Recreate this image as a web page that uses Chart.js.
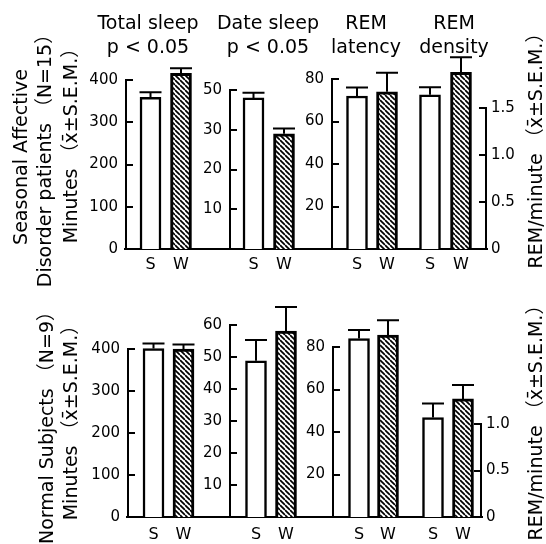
<!DOCTYPE html>
<html><head><meta charset="utf-8">
<script src="https://cdn.jsdelivr.net/npm/chart.js@4.4.1/dist/chart.umd.min.js"></script>
<style>
html,body{margin:0;padding:0;background:#fff;}
#wrap{position:relative;width:546px;height:544px;overflow:hidden;background:#fff;}
canvas{position:absolute;left:0;top:0;}
.t{position:absolute;width:130px;font-family:"DejaVu Sans","Noto Sans CJK JP",sans-serif;color:#000;white-space:nowrap;font-size:19px;line-height:24px;text-align:center;}
.r{position:absolute;font-family:"DejaVu Sans","Noto Sans CJK JP",sans-serif;color:#000;white-space:nowrap;font-size:19px;line-height:22px;transform:translate(-50%,-50%) rotate(-90deg);}
</style></head>
<body><div id="wrap"></div>
<script>
// ---------- data ----------
const categories = ['S', 'W'];
// Seasonal Affective Disorder patients (N=15)
const sadTotalSleep = [359, 416];
const sadTotalSleepErr = [12, 12];
const sadDateSleep = [38, 29];
const sadDateSleepErr = [1.3, 1.3];
const sadRemLatency = [72, 74];
const sadRemLatencyErr = [4, 9];
const sadRemDensity = [1.64, 1.88];
const sadRemDensityErr = [0.08, 0.16];
// Normal Subjects (N=9)
const nsTotalSleep = [401, 400];
const nsTotalSleepErr = [12, 11];
const nsDateSleep = [48.8, 58.1];
const nsDateSleepErr = [6.5, 7.5];
const nsRemLatency = [84, 85.6];
const nsRemLatencyErr = [4, 7];
const nsRemDensity = [1.07, 1.27];
const nsRemDensityErr = [0.15, 0.15];
// tick values and labels
const minutesTicks = [0, 100, 200, 300, 400];
const minutesTickLabels = ['0', '100', '200', '300', '400'];
const sadDateTicks = [10, 20, 30, 40];
const sadDateTickLabels = ['10', '20', '30', '50'];
const nsDateTicks = [10, 20, 30, 40, 50, 60];
const nsDateTickLabels = ['10', '20', '30', '40', '50', '60'];
const latencyTicks = [20, 40, 60, 80];
const latencyTickLabels = ['20', '40', '60', '80'];
const sadDensityTicks = [0, 0.5, 1.0, 1.5];
const sadDensityTickLabels = ['0', '0.5', '1.0', '1.5'];
const nsDensityTicks = [0, 0.5, 1.0];
const nsDensityTickLabels = ['0', '0.5', '1.0'];

// ---------- layout ----------
const W = 546, H = 544, AXW = 40, XAH = 26;
const FONT = '"DejaVu Sans", "Noto Sans CJK JP", sans-serif';

function hatch() {
  const s = 5, c = document.createElement('canvas');
  c.width = s; c.height = s;
  const g = c.getContext('2d');
  g.fillStyle = '#fff'; g.fillRect(0, 0, s, s);
  g.strokeStyle = '#000'; g.lineWidth = 1.7;
  for (let k = -1; k <= 1; k++) {
    g.beginPath(); g.moveTo(0, k * s); g.lineTo(s, s + k * s); g.stroke();
  }
  return g.createPattern(c, 'repeat');
}

const panels = [
  {vals: sadTotalSleep, errs: sadTotalSleepErr, ticks: minutesTicks, labels: minutesTickLabels,
   left: 125, right: 229, top: 40, bottom: 249, sX: 150.5, wX: 181, axis: 'left', topPx: 80, xPad: 6},
  {vals: sadDateSleep, errs: sadDateSleepErr, ticks: sadDateTicks, labels: sadDateTickLabels,
   left: 229, right: 331, top: 40, bottom: 249, sX: 253.5, wX: 284, axis: 'left', topPx: 90, xPad: 6},
  {vals: sadRemLatency, errs: sadRemLatencyErr, ticks: latencyTicks, labels: latencyTickLabels,
   left: 331, right: 410, top: 40, bottom: 249, sX: 357, wX: 387, axis: 'left', topPx: 79, xPad: 6},
  {vals: sadRemDensity, errs: sadRemDensityErr, ticks: sadDensityTicks, labels: sadDensityTickLabels,
   left: 410, right: 487, top: 40, bottom: 249, sX: 430, wX: 461, axis: 'right', topPx: 108, xPad: 6},
  {vals: nsTotalSleep, errs: nsTotalSleepErr, ticks: minutesTicks, labels: minutesTickLabels,
   left: 127, right: 229, top: 300, bottom: 517, sX: 153.5, wX: 183.5, axis: 'left', topPx: 349, xPad: 8},
  {vals: nsDateSleep, errs: nsDateSleepErr, ticks: nsDateTicks, labels: nsDateTickLabels,
   left: 229, right: 332, top: 300, bottom: 517, sX: 256, wX: 286, axis: 'left', topPx: 325, xPad: 8},
  {vals: nsRemLatency, errs: nsRemLatencyErr, ticks: latencyTicks, labels: latencyTickLabels,
   left: 332, right: 410, top: 300, bottom: 517, sX: 359, wX: 388, axis: 'left', topPx: 347, xPad: 8},
  {vals: nsRemDensity, errs: nsRemDensityErr, ticks: nsDensityTicks, labels: nsDensityTickLabels,
   left: 410, right: 482, top: 300, bottom: 517, sX: 433, wX: 463, axis: 'right', topPx: 424, xPad: 8}
];

const wrap = document.getElementById('wrap');

function decor(p) {
  return {
    id: 'decor',
    afterDatasetsDraw(chart) {
      const ctx = chart.ctx, ys = chart.scales.y, ca = chart.chartArea;
      ctx.save();
      ctx.strokeStyle = '#000';
      ctx.lineWidth = 2;
      ctx.lineCap = 'butt';
      // error bars (upper only)
      const meta = chart.getDatasetMeta(0);
      meta.data.forEach((bar, i) => {
        const yTop = ys.getPixelForValue(p.vals[i] + p.errs[i]);
        ctx.beginPath();
        ctx.moveTo(bar.x, bar.y);
        ctx.lineTo(bar.x, yTop);
        ctx.moveTo(bar.x - bar.width / 2 - 0.5, yTop);
        ctx.lineTo(bar.x + bar.width / 2 + 0.5, yTop);
        ctx.stroke();
      });
      // axis line and inward ticks
      const xa = p.axis === 'left' ? ca.left + 1 : ca.right - 1;
      const dir = p.axis === 'left' ? 1 : -1;
      const yTopTick = ys.getPixelForValue(p.ticks[p.ticks.length - 1]);
      ctx.beginPath();
      ctx.moveTo(xa, ys.getPixelForValue(0));
      ctx.lineTo(xa, yTopTick - 1);
      p.ticks.forEach(v => {
        const y = Math.round(ys.getPixelForValue(v));
        ctx.moveTo(xa, y);
        ctx.lineTo(xa + dir * 7, y);
      });
      ctx.stroke();
      ctx.restore();
    }
  };
}

panels.forEach(p => {
  const cv = document.createElement('canvas');
  cv.width = W; cv.height = H;
  wrap.appendChild(cv);
  const unit = p.wX - p.sX;
  const xmin = -(p.sX - p.left) / unit;
  const xmax = 1 + (p.right - p.wX) / unit;
  const topVal = p.ticks[p.ticks.length - 1];
  const ymax = topVal * (p.bottom - p.top) / (p.bottom - p.topPx);
  const pad = p.axis === 'left'
    ? {left: p.left - AXW, right: W - p.right, top: p.top, bottom: H - p.bottom - XAH}
    : {left: p.left, right: W - p.right - AXW, top: p.top, bottom: H - p.bottom - XAH};
  new Chart(cv.getContext('2d'), {
    type: 'bar',
    data: {
      datasets: [{
        data: p.vals.map((v, i) => ({x: i, y: v})),
        backgroundColor: ['#ffffff', hatch()],
        borderColor: '#000',
        borderWidth: [2.5, 3],
        barThickness: 21
      }]
    },
    options: {
      responsive: false,
      animation: false,
      devicePixelRatio: 1,
      layout: {padding: pad},
      plugins: {legend: {display: false}, tooltip: {enabled: false}, title: {display: false}},
      scales: {
        x: {
          type: 'linear', min: xmin, max: xmax, offset: false, bounds: 'data',
          grid: {display: false, drawTicks: false, offset: false},
          border: {display: true, color: '#000', width: 2},
          afterBuildTicks: s => { s.ticks = categories.map((c, i) => ({value: i})); },
          afterFit: s => { s.height = XAH; },
          ticks: {
            autoSkip: false, maxRotation: 0, color: '#000', padding: p.xPad,
            font: {family: FONT, size: 16},
            callback: (v, i) => categories[i]
          }
        },
        y: {
          type: 'linear', position: p.axis, min: 0, max: ymax,
          grid: {display: false, drawTicks: false},
          border: {display: false},
          afterBuildTicks: s => { s.ticks = p.ticks.map(v => ({value: v})); },
          afterFit: s => { s.width = AXW; },
          ticks: {
            autoSkip: false, color: '#000', padding: p.axis === 'left' ? 7 : 4,
            font: {family: FONT, size: 15},
            callback: (v, i) => p.labels[i]
          }
        }
      }
    },
    plugins: [decor(p)]
  });
});

// ---------- text ----------
function addTitle(html, cx, top) {
  const d = document.createElement('div');
  d.className = 't'; d.innerHTML = html;
  d.style.left = (cx - 65) + 'px'; d.style.top = top + 'px';
  wrap.appendChild(d);
}
function addRot(text, cx, cy) {
  const d = document.createElement('div');
  d.className = 'r'; d.textContent = text;
  d.style.left = cx + 'px'; d.style.top = cy + 'px';
  wrap.appendChild(d);
}
addTitle('Total sleep<br>p &lt; 0.05', 148, 10);
addTitle('Date sleep<br>p &lt; 0.05', 268, 10);
addTitle('REM<br>latency', 366, 10);
addTitle('REM<br>density', 454, 10);

const xbar = 'x\u0304';
addRot('Seasonal Affective', 20, 157);
addRot('Disorder patients （N=15）', 44, 156);
addRot('Minutes （' + xbar + '±S.E.M.）', 70, 141);
addRot('Normal Subjects （N=9）', 46, 423);
addRot('Minutes （' + xbar + '±S.E.M.）', 70, 418);
addRot('REM/minute （' + xbar + '±S.E.M.）', 535, 146);
addRot('REM/minute （' + xbar + '±S.E.M.）', 535, 418);
</script>
</body></html>
